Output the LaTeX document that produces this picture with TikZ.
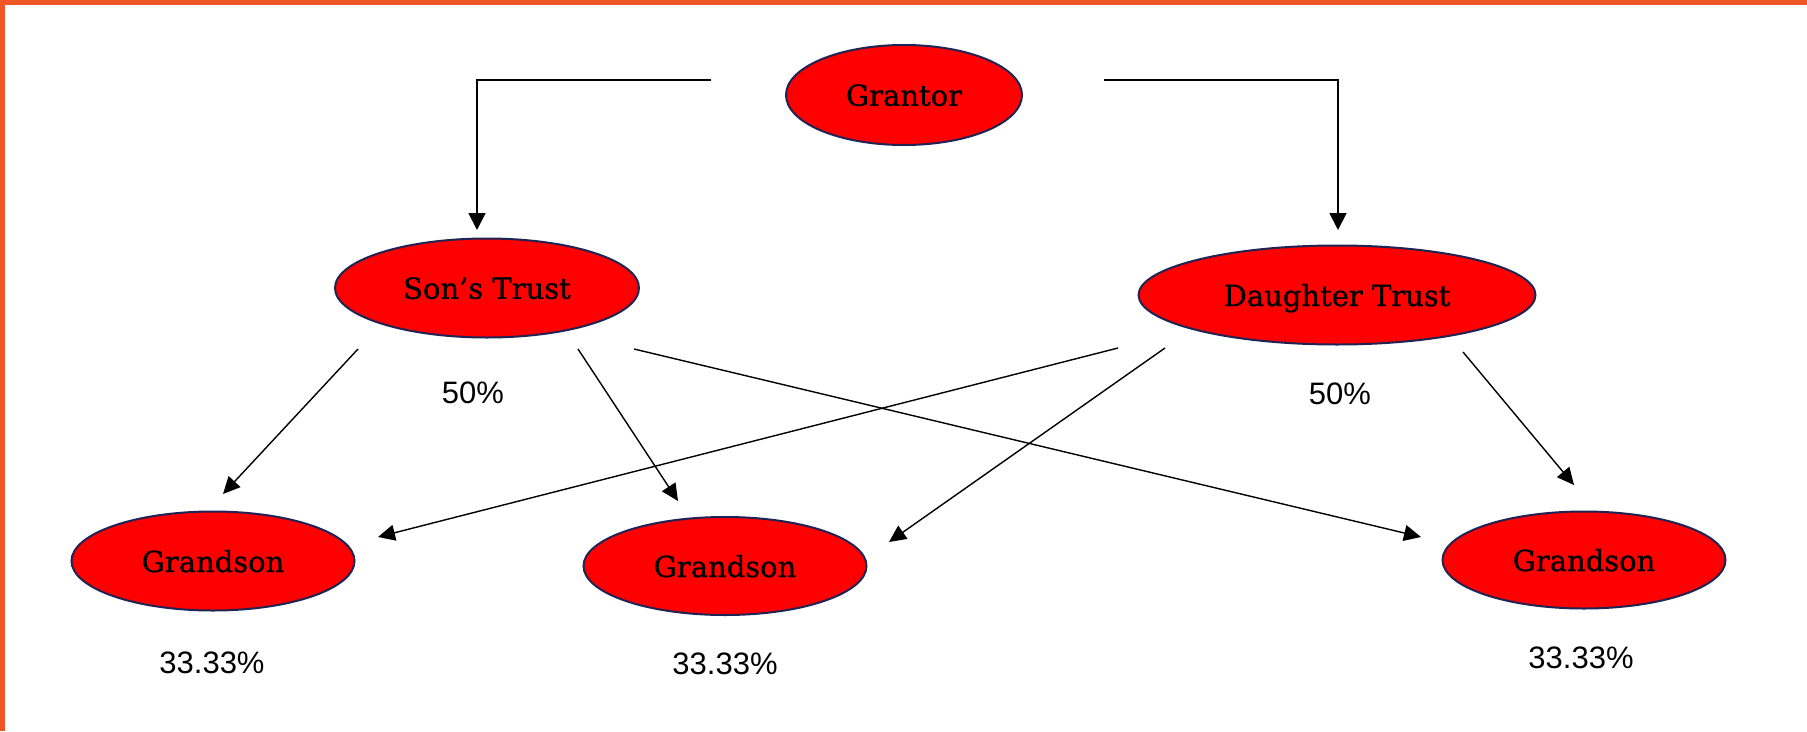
\documentclass[tikz,border=0pt]{standalone}
\usepackage{fontspec}
\setmainfont{DejaVu Serif}
\newfontfamily\ovalfont[FakeBold=0.9]{DejaVu Serif}
\newfontfamily\pctfont{Liberation Sans}
\usetikzlibrary{shapes.geometric,arrows.meta}
\definecolor{bordr}{RGB}{238,86,38}
\definecolor{nodered}{RGB}{255,0,0}
\definecolor{navyline}{RGB}{32,36,84}
\begin{document}
\begin{tikzpicture}[x=1pt,y=-1pt,
  oval/.style={ellipse, draw=navyline, line width=2pt, fill=nodered, inner sep=0pt,
    font=\ovalfont\fontsize{29}{34}\selectfont, text depth=0pt},
  pct/.style={font=\pctfont\fontsize{31}{36}\selectfont, inner sep=0pt, text depth=0pt},
  conn/.style={line width=1.8pt, -{Triangle[length=17pt,width=17pt]}},
  diag/.style={line width=1.4pt, -{Triangle[length=17pt,width=16pt]}}]
\path[use as bounding box, fill=white] (0,0) rectangle (1807,731);
\fill[bordr] (0,0) rectangle (1807,5);
\fill[bordr] (0,0) rectangle (5,731);

\node[oval, minimum width=236pt, minimum height=100pt] (grantor) at (904,95) {Grantor};
\node[oval, minimum width=304pt, minimum height=99pt] (son) at (487,288) {Son’s Trust};
\node[oval, minimum width=397pt, minimum height=99pt] (dau) at (1337,295) {Daughter Trust};
\node[oval, minimum width=283pt, minimum height=99pt] (g1) at (213,561) {Grandson};
\node[oval, minimum width=283pt, minimum height=98pt] (g2) at (725,566) {Grandson};
\node[oval, minimum width=283pt, minimum height=97pt] (g3) at (1584,560) {Grandson};

\node[pct] (p1) at (473,393) {50\%};
\node[pct] (p2) at (1340,394) {50\%};
\node[pct] (p3) at (212,663) {33.33\%};
\node[pct] (p4) at (725,664) {33.33\%};
\node[pct] (p5) at (1581,658) {33.33\%};

% free ends of the connectors
\coordinate (gl) at (711,80);
\coordinate (gr) at (1104,80);
\coordinate (sonT) at (477,230);
\coordinate (dauT) at (1338,230);
\coordinate (s1) at (358,349);
\coordinate (s2) at (578,349);
\coordinate (s3) at (634,349);
\coordinate (d1) at (1118,348);
\coordinate (d2) at (1165,348);
\coordinate (d3) at (1463,352);
\coordinate (g1a) at (223,494);
\coordinate (g1b) at (378,537);
\coordinate (g2a) at (678,501);
\coordinate (g2b) at (889,542);
\coordinate (g3a) at (1421,537);
\coordinate (g3b) at (1574,485);

\draw[conn] (gl) -| (sonT);
\draw[conn] (gr) -| (dauT);
\draw[diag] (s1) -- (g1a);
\draw[diag] (s2) -- (g2a);
\draw[diag] (s3) -- (g3a);
\draw[diag] (d1) -- (g1b);
\draw[diag] (d2) -- (g2b);
\draw[diag] (d3) -- (g3b);
\end{tikzpicture}
\end{document}
